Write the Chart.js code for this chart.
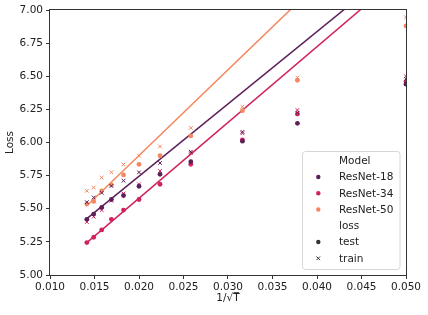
<!DOCTYPE html>
<html>
<head>
<meta charset="utf-8">
<script src="https://cdn.jsdelivr.net/npm/chart.js@4/dist/chart.umd.min.js"></script>
<style>
  body { margin: 0; background: #fff; }
  #wrap { width: 428px; height: 315px; position: relative; }
</style>
</head>
<body>
<div id="wrap"><canvas id="lossChart"></canvas></div>
<script>
// 1/sqrt(T) positions of the runs
const invSqrtT = [0.01414, 0.01491, 0.01581, 0.01690, 0.01826, 0.02000, 0.02236, 0.02582, 0.03162, 0.03780, 0.05000];

// loss values
const r18Test  = [5.420, 5.460, 5.510, 5.570, 5.600, 5.670, 5.760, 5.855, 6.010, 6.145, 6.440];
const r18Train = [5.550, 5.585, 5.620, 5.672, 5.712, 5.775, 5.845, 5.930, 6.080, 6.225, 6.480];
const r34Test  = [5.245, 5.285, 5.340, 5.420, 5.490, 5.570, 5.685, 5.835, 6.020, 6.215, 6.460];
const r34Train = [5.400, 5.440, 5.490, 5.560, 5.615, 5.685, 5.785, 5.920, 6.070, 6.245, 6.500];
const r50Test  = [5.535, 5.555, 5.635, 5.680, 5.755, 5.835, 5.900, 6.050, 6.240, 6.470, 6.880];
const r50Train = [5.635, 5.660, 5.735, 5.775, 5.835, 5.900, 5.970, 6.110, 6.270, 6.490, 6.945];

// fitted lines, start and end points
const fit18 = [[0.01414, 5.425], [0.05, 7.383]];
const fit34 = [[0.01414, 5.244], [0.05, 7.295]];
const fit50 = [[0.01414, 5.523], [0.05, 7.843]];

const modelNames = ['ResNet-18', 'ResNet-34', 'ResNet-50'];
const lossNames = ['test', 'train'];
const xTickValues = [0.010, 0.015, 0.020, 0.025, 0.030, 0.035, 0.040, 0.045, 0.050];
const yTickValues = [5.00, 5.25, 5.50, 5.75, 6.00, 6.25, 6.50, 6.75, 7.00];

const modelColors = ['#5c1f5a', '#d0225b', '#f4875f'];
const fontFamily = "'DejaVu Sans', sans-serif";

function toPoints(xs, ys) {
    return xs.map((x, i) => ({ x: x, y: ys[i] }));
}

function scatterSet(label, ys, color, style) {
    return {
        label: label,
        data: toPoints(invSqrtT, ys),
        showLine: false,
        pointStyle: style,
        pointRadius: style === 'circle' ? 2.4 : 2.6,
        pointBackgroundColor: color,
        pointBorderColor: color,
        pointBorderWidth: style === 'circle' ? 0 : 1,
        clip: 0
    };
}

function fitSet(label, pts, color) {
    return {
        label: label,
        data: pts.map(p => ({ x: p[0], y: p[1] })),
        showLine: true,
        borderColor: color,
        borderWidth: 1.5,
        pointRadius: 0,
        clip: 0
    };
}

const testSeries = [r18Test, r34Test, r50Test];
const trainSeries = [r18Train, r34Train, r50Train];
const fitSeries = [fit18, fit34, fit50];

let datasets = [];
for (let i = 0; i < 3; i++) {
    datasets.push(scatterSet(modelNames[i] + ' test', testSeries[i], modelColors[i], 'circle'));
    datasets.push(scatterSet(modelNames[i] + ' train', trainSeries[i], modelColors[i], 'crossRot'));
}
for (let i = 0; i < 3; i++) {
    datasets.push(fitSet(modelNames[i] + ' fit', fitSeries[i], modelColors[i]));
}

// frame around the plot + the matplotlib-like legend box
const framePlugin = {
    id: 'frameAndLegend',
    afterDatasetsDraw(chart) {
        const ctx = chart.ctx;
        const a = chart.chartArea;
        ctx.save();
        ctx.strokeStyle = '#333';
        ctx.lineWidth = 1;
        ctx.strokeRect(Math.round(a.left) - 0.5, Math.round(a.top) - 0.5,
                       Math.round(a.right - a.left) + 1, Math.round(a.bottom - a.top) + 1);

        // legend box
        const bx = 302.5, by = 151.5, bw = 97.5, bh = 118, r = 3;
        ctx.beginPath();
        ctx.moveTo(bx + r, by);
        ctx.arcTo(bx + bw, by, bx + bw, by + bh, r);
        ctx.arcTo(bx + bw, by + bh, bx, by + bh, r);
        ctx.arcTo(bx, by + bh, bx, by, r);
        ctx.arcTo(bx, by, bx + bw, by, r);
        ctx.closePath();
        ctx.fillStyle = 'rgba(255,255,255,0.8)';
        ctx.fill();
        ctx.strokeStyle = '#d6d6d6';
        ctx.stroke();

        const rows = [
            { text: 'Model' },
            { text: modelNames[0], color: modelColors[0], style: 'dot' },
            { text: modelNames[1], color: modelColors[1], style: 'dot' },
            { text: modelNames[2], color: modelColors[2], style: 'dot' },
            { text: 'loss' },
            { text: lossNames[0], color: '#333', style: 'dot' },
            { text: lossNames[1], color: '#333', style: 'cross' }
        ];
        const mx = 318.3, tx = 339, y0 = 160.8, dy = 16.25;
        ctx.font = '10.5px ' + fontFamily;
        ctx.textBaseline = 'middle';
        ctx.textAlign = 'left';
        rows.forEach((row, i) => {
            const y = y0 + i * dy;
            if (row.style === 'dot') {
                ctx.fillStyle = row.color;
                ctx.beginPath();
                ctx.arc(mx, y, 2.2, 0, Math.PI * 2);
                ctx.fill();
            } else if (row.style === 'cross') {
                ctx.strokeStyle = row.color;
                ctx.lineWidth = 1;
                ctx.beginPath();
                ctx.moveTo(mx - 1.8, y - 1.8); ctx.lineTo(mx + 1.8, y + 1.8);
                ctx.moveTo(mx + 1.8, y - 1.8); ctx.lineTo(mx - 1.8, y + 1.8);
                ctx.stroke();
            }
            ctx.fillStyle = '#222';
            ctx.fillText(row.text, tx, y + 0.5);
        });
        ctx.restore();
    }
};

const ctx = document.getElementById('lossChart').getContext('2d');
new Chart(ctx, {
    type: 'scatter',
    data: { datasets: datasets },
    options: {
        responsive: true,
        maintainAspectRatio: false,
        animation: false,
        events: [],
        layout: { padding: { left: 0, right: 22, top: 10, bottom: 0 } },
        plugins: {
            legend: { display: false },
            tooltip: { enabled: false }
        },
        scales: {
            x: {
                type: 'linear',
                min: 0.010,
                max: 0.050,
                afterBuildTicks: scale => { scale.ticks = xTickValues.map(v => ({ value: v })); },
                afterFit: scale => { scale.height = 40; },
                grid: { drawOnChartArea: false, drawTicks: true, tickLength: 4, tickColor: '#333', tickWidth: 1 },
                border: { display: false },
                ticks: {
                    color: '#222',
                    padding: 2,
                    maxRotation: 0,
                    autoSkip: false,
                    font: { family: fontFamily, size: 10.5 },
                    callback: v => Number(v).toFixed(3)
                },
                title: {
                    display: true,
                    text: '1/√T̅',
                    color: '#222',
                    padding: { top: 0, bottom: 10 },
                    font: { family: fontFamily, size: 10.5 }
                }
            },
            y: {
                type: 'linear',
                min: 5,
                max: 7,
                afterBuildTicks: scale => { scale.ticks = yTickValues.map(v => ({ value: v })); },
                afterFit: scale => { scale.width = 50; },
                grid: { drawOnChartArea: false, drawTicks: true, tickLength: 4, tickColor: '#333', tickWidth: 1 },
                border: { display: false },
                ticks: {
                    color: '#222',
                    padding: 3,
                    autoSkip: false,
                    font: { family: fontFamily, size: 10.5 },
                    callback: v => Number(v).toFixed(2)
                },
                title: {
                    display: true,
                    text: 'Loss',
                    color: '#222',
                    padding: { top: 4, bottom: 0 },
                    font: { family: fontFamily, size: 10.5 }
                }
            }
        }
    },
    plugins: [framePlugin]
});
</script>
</body>
</html>
